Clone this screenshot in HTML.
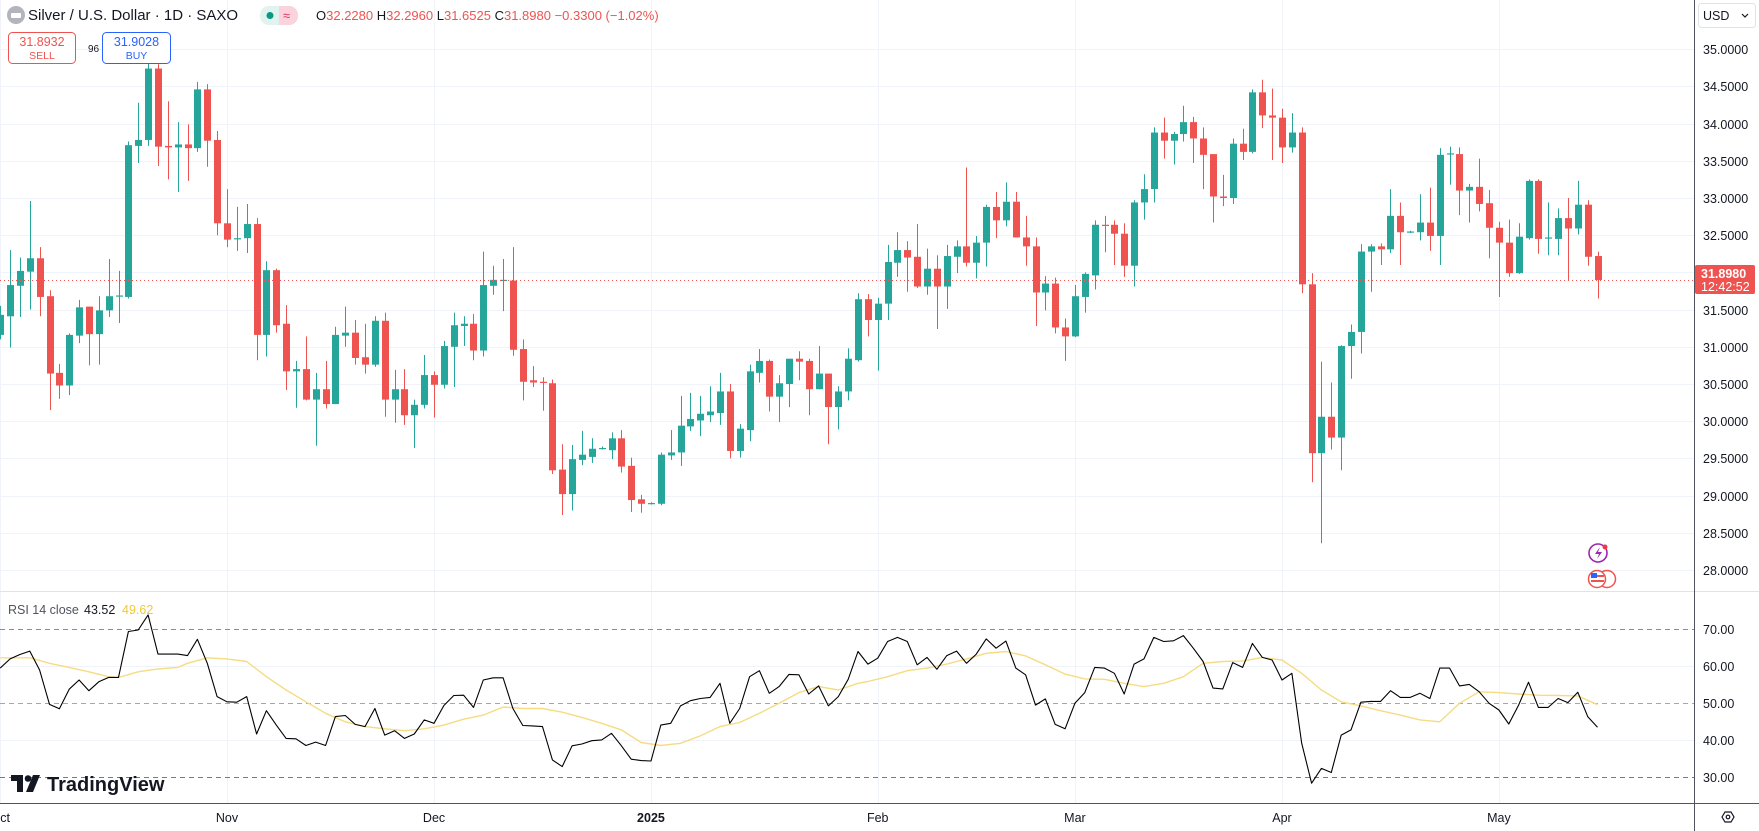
<!DOCTYPE html>
<html><head><meta charset="utf-8"><title>Silver / U.S. Dollar 1D</title>
<style>
html,body{margin:0;padding:0;background:#fff;}
body{width:1759px;height:831px;overflow:hidden;position:relative;font-family:"Liberation Sans",sans-serif;}
svg{position:absolute;left:0;top:0;}
.ax{font-size:12.5px;fill:#131722;}
</style></head>
<body>
<svg id="chart" width="1759" height="831" viewBox="0 0 1759 831" xmlns="http://www.w3.org/2000/svg">
  <g id="grid"></g>
  <g id="rsiBands"></g>
  <g id="candles"></g>
  <g id="rsiLines"></g>
  <line x1="0" y1="280.5" x2="1694" y2="280.5" stroke="#ef5350" stroke-width="1" stroke-dasharray="1 3"/>
  <!-- panes / axes -->
  <line x1="0" y1="591.5" x2="1759" y2="591.5" stroke="#e0e3eb" stroke-width="1"/>
  <line x1="1694.5" y1="0" x2="1694.5" y2="831" stroke="#50535e" stroke-width="1"/>
  <line x1="0" y1="803.5" x2="1759" y2="803.5" stroke="#50535e" stroke-width="1"/>
  <g id="axisLabels"></g>
  <!-- USD box -->
  <g>
    <rect x="1698.5" y="3.5" width="57" height="24" rx="3" fill="#fff" stroke="#e0e3eb"/>
    <text x="1703" y="20" font-size="12.5" fill="#131722">USD</text>
    <path d="M1742 14 l3 3 l3 -3" fill="none" stroke="#131722" stroke-width="1.2"/>
  </g>
  <!-- last price label -->
  <g>
    <text x="1703" y="276" class="ax" fill="#131722">32.0000</text>
    <rect x="1695" y="265" width="60" height="29" rx="2" fill="#ef5350"/>
    <text x="1701" y="278" font-size="12.5" fill="#fff" font-weight="bold">31.8980</text>
    <text x="1701" y="291" font-size="12.5" fill="#fff">12:42:52</text>
  </g>
  <!-- header -->
  <g>
    <circle cx="16" cy="15" r="9" fill="#b2b5be"/>
    <rect x="11" y="13" width="10" height="5" fill="#fff" rx="1"/>
    <text x="28" y="20" font-size="15" fill="#131722">Silver / U.S. Dollar · 1D · SAXO</text>
  </g>
  <g>
    <rect x="260" y="6" width="38" height="19" rx="9" fill="#e0f3ef"/>
    <path d="M279 6 h10 a9 9 0 0 1 9 9 v1 a9 9 0 0 1 -9 9 h-10z" fill="#fbd3dd"/>
    <circle cx="270" cy="15.5" r="3.5" fill="#089981"/>
    <text x="283" y="20" font-size="13" fill="#e0306b">≈</text>
  </g>
  <text x="316" y="20" font-size="13" fill="#ef5350"><tspan fill="#131722">O</tspan>32.2280 <tspan fill="#131722">H</tspan>32.2960 <tspan fill="#131722">L</tspan>31.6525 <tspan fill="#131722">C</tspan>31.8980 −0.3300 (−1.02%)</text>
  <g>
    <rect x="8.5" y="32.5" width="67" height="31" rx="4" fill="#fff" stroke="#ef5350"/>
    <text x="42" y="46" font-size="12.5" fill="#ef5350" text-anchor="middle">31.8932</text>
    <text x="42" y="59" font-size="10.5" fill="#ef5350" text-anchor="middle">SELL</text>
  </g>
  <text x="88" y="52" font-size="10" fill="#131722">96</text>
  <g>
    <rect x="102.5" y="32.5" width="68" height="31" rx="4" fill="#fff" stroke="#2962ff"/>
    <text x="136.5" y="46" font-size="12.5" fill="#2962ff" text-anchor="middle">31.9028</text>
    <text x="136.5" y="59" font-size="10.5" fill="#2962ff" text-anchor="middle">BUY</text>
  </g>
  <!-- RSI legend -->
  <text x="8" y="614" font-size="12.5" fill="#131722"><tspan fill="#50535e">RSI 14 close</tspan><tspan x="84" fill="#131722">43.52</tspan><tspan x="122" fill="#f0c93a">49.62</tspan></text>
  <!-- icons -->
  <g>
    <circle cx="1598" cy="553" r="9" fill="#fff" stroke="#9c27b0" stroke-width="1.6"/>
    <path d="M1600 547 l-5 7 h4 l-2 5 l5 -7 h-4z" fill="#9c27b0"/>
    <circle cx="1605" cy="547" r="2.5" fill="#f23645"/>
  </g>
  <g>
    <circle cx="1607" cy="579" r="8.5" fill="#fff" stroke="#ef5350" stroke-width="1.5"/>
    <circle cx="1597" cy="579" r="8.5" fill="#fff" stroke="#ef5350" stroke-width="1.5"/>
    <rect x="1591" y="575" width="13" height="2" fill="#ef5350"/>
    <rect x="1591" y="580" width="13" height="2" fill="#ef5350"/>
    <rect x="1591" y="573" width="6" height="5" fill="#2962ff"/>
  </g>
  <!-- logo -->
  <g>
    <path d="M11 775 h12 v17 h-6 v-11 h-6z" fill="#131722"/>
    <circle cx="28" cy="778.5" r="3.3" fill="#131722"/>
    <path d="M33 775 h7 l-7 17 h-7z" fill="#131722"/>
    <text x="47" y="791" font-size="20" font-weight="bold" fill="#131722">TradingView</text>
  </g>
  <g>
    <path d="M1722 817 l3 -5 h6 l3 5 l-3 5 h-6z" fill="none" stroke="#131722" stroke-width="1.2"/>
    <circle cx="1728" cy="817" r="1.8" fill="none" stroke="#131722" stroke-width="1.2"/>
  </g>
</svg>
<script>
// ---- data ----
const opens = [31.16,31.41,31.82,32.01,32.19,31.68,30.65,30.48,31.15,31.54,31.17,31.49,31.68,31.67,33.70,33.78,34.74,33.70,33.68,33.72,33.67,34.46,33.78,32.66,32.45,32.46,32.65,31.16,32.03,31.31,30.67,30.70,30.29,30.43,30.23,31.15,31.19,30.86,30.76,31.35,30.29,30.43,30.08,30.22,30.62,30.49,31.00,31.28,31.31,30.95,31.82,31.89,31.89,30.97,30.55,30.53,30.51,29.35,29.02,29.48,29.52,29.63,29.61,29.77,29.40,28.95,28.89,28.89,29.54,29.58,29.93,30.01,30.08,30.11,30.40,29.60,29.88,30.65,30.81,30.33,30.50,30.84,30.81,30.43,30.64,30.19,30.40,30.82,31.64,31.36,31.58,32.13,32.30,32.21,31.81,32.05,31.81,32.21,32.35,32.13,32.40,32.88,32.70,32.95,32.47,32.35,31.73,31.85,31.26,31.14,31.67,31.96,32.64,32.64,32.52,32.09,32.94,33.12,33.88,33.77,33.86,34.02,33.80,33.59,33.02,33.00,33.73,33.62,34.42,34.11,34.08,33.68,33.88,31.84,29.57,30.06,29.78,31.01,31.20,32.28,32.35,32.31,32.76,32.54,32.54,32.67,32.49,33.59,33.59,33.10,33.15,32.93,32.60,32.40,31.99,32.46,33.23,32.46,32.45,32.73,32.59,32.91,32.22];
const highs = [31.55,32.30,32.20,32.96,32.34,31.76,30.77,31.18,31.63,31.54,31.68,32.18,32.02,33.76,34.28,34.85,34.80,34.30,34.02,33.99,34.56,34.53,33.90,33.12,32.88,32.92,32.73,32.15,32.05,31.56,30.81,31.14,30.65,30.81,31.27,31.54,31.36,31.31,31.41,31.46,30.69,30.70,30.29,30.89,30.67,31.08,31.46,31.41,31.44,32.28,32.09,32.18,32.34,31.10,30.74,30.59,30.56,29.69,29.68,29.87,29.77,29.66,29.85,29.88,29.51,29.01,28.91,29.58,29.88,30.34,30.38,30.34,30.47,30.65,30.50,29.96,30.76,30.97,30.83,30.62,30.84,30.94,30.84,31.01,30.64,30.47,30.98,31.72,31.71,31.66,32.37,32.54,32.42,32.65,32.32,32.23,32.37,32.43,33.41,32.49,32.91,33.08,33.21,33.08,32.76,32.47,31.95,31.93,31.38,31.83,32.00,32.70,32.76,32.70,32.66,32.97,33.32,33.95,34.08,33.89,34.24,34.09,33.95,33.59,33.31,33.80,33.93,34.46,34.59,34.47,34.20,34.14,33.95,31.99,30.80,30.52,31.02,31.30,32.38,32.38,32.39,33.12,32.94,32.56,33.05,33.14,33.67,33.69,33.68,33.19,33.53,33.11,32.68,32.71,32.66,33.25,33.25,32.94,32.86,33.00,33.23,32.97,32.28];
const lows = [31.10,30.99,31.40,31.50,31.41,30.15,30.30,30.35,31.05,30.75,30.76,31.40,31.32,31.65,33.47,33.70,33.43,33.25,33.08,33.23,33.62,33.42,32.50,32.34,32.29,32.26,30.82,30.87,31.19,30.42,30.18,30.28,29.67,30.17,30.23,31.00,30.76,30.64,30.73,30.06,29.98,29.95,29.64,30.17,30.05,30.44,30.46,31.01,30.82,30.87,31.70,31.48,30.88,30.28,30.46,30.14,29.29,28.74,28.80,29.41,29.44,29.62,29.49,29.31,28.78,28.77,28.88,28.87,29.48,29.40,29.87,29.80,29.99,29.95,29.50,29.51,29.73,30.52,30.13,29.99,30.19,30.55,30.08,30.43,29.69,29.89,30.28,30.80,31.14,30.68,31.36,31.94,31.74,31.79,31.70,31.24,31.51,31.99,32.08,31.92,32.08,32.46,32.62,32.47,32.09,31.28,31.49,31.18,30.81,31.13,31.46,31.77,32.27,32.10,31.94,31.81,32.71,32.94,33.53,33.45,33.76,33.47,33.12,32.67,32.89,32.92,33.51,33.60,33.94,33.51,33.47,33.61,31.72,29.18,28.36,29.62,29.34,30.57,30.91,31.74,32.10,32.26,32.10,32.53,32.43,32.29,32.10,33.18,32.77,32.67,32.82,32.19,31.67,31.94,31.98,32.44,32.25,32.23,32.23,31.89,32.51,32.09,31.65];
const closes = [31.43,31.83,32.02,32.19,31.67,30.64,30.48,31.16,31.53,31.17,31.49,31.68,31.69,33.71,33.78,34.74,33.69,33.68,33.72,33.67,34.46,33.77,32.66,32.44,32.46,32.65,31.16,32.03,31.29,30.67,30.70,30.29,30.43,30.23,31.16,31.19,30.85,30.76,31.35,30.29,30.43,30.08,30.22,30.62,30.49,31.01,31.29,31.31,30.95,31.83,31.90,31.90,30.96,30.53,30.52,30.52,29.34,29.02,29.49,29.55,29.63,29.64,29.77,29.39,28.94,28.89,28.90,29.55,29.58,29.94,30.03,30.10,30.13,30.40,29.60,29.90,30.67,30.81,30.33,30.51,30.84,30.80,30.43,30.64,30.19,30.40,30.84,31.64,31.36,31.58,32.14,32.30,32.20,31.81,32.05,31.81,32.22,32.35,32.13,32.40,32.88,32.70,32.95,32.47,32.35,31.73,31.85,31.26,31.14,31.68,31.98,32.64,32.63,32.52,32.09,32.94,33.12,33.88,33.77,33.86,34.02,33.80,33.58,33.02,33.00,33.73,33.62,34.42,34.11,34.08,33.68,33.88,31.84,29.57,30.06,29.78,31.01,31.20,32.28,32.35,32.31,32.76,32.54,32.55,32.67,32.49,33.58,33.60,33.10,33.15,32.92,32.60,32.40,31.99,32.48,33.23,32.45,32.47,32.73,32.59,32.91,32.21,31.898];
const rsiValues = [59.5,62,63.2,64.1,59,49.7,48.5,53.8,56.3,53.4,55.8,57,57,69.4,69.8,73.9,63.3,63.3,63.3,62.9,67.3,60.8,51.8,50.4,50.3,51.8,41.7,48,44.1,40.5,40.4,38.6,39.5,38.6,46.4,46.7,44.3,43.7,48.6,41.4,42.6,40.5,41.7,45.5,44.6,49.4,52.1,52.2,48.9,56.3,56.9,56.9,48.6,44,43.9,43.7,34.7,32.9,38.5,39,39.9,40.1,41.9,38.5,34.9,34.5,34.4,44.1,44.6,49.3,50.7,51.3,51.6,55.4,44.6,48.6,57.2,58.8,52.7,54.5,57.8,57.7,52.5,54.7,49.3,51.8,56.5,64,60.6,62.2,66.7,67.8,66.7,60.4,62.4,59.2,62.9,64.1,60.8,63.3,67.4,64.9,66.8,59.5,57.7,49.5,51.2,44.3,43.1,50,52.9,59.7,59.5,58.1,52.5,60.6,62,67.8,66.7,66.9,68.3,64.9,61.3,54.1,53.9,61,59.7,66.2,62.4,61.7,56.3,58.1,39.2,28.4,32.4,31.3,41.4,42.8,50.3,50.5,50.5,53.4,51.6,51.6,52.7,51.3,59.5,59.5,54.7,55.1,53.1,50,48.2,44.4,49.5,55.7,48.9,48.9,51.3,50.2,53,46.4,43.52];
const maIndex = [0,3,5,7,9,11,12,14,16,18,19,21,23,25,27,29,31,33,35,37,39,41,43,45,47,49,51,53,55,57,59,61,63,65,67,69,71,73,75,77,79,81,83,85,87,88,90,92,94,96,98,100,102,104,106,108,110,112,114,116,118,120,122,124,126,128,130,132,134,136,138,140,142,144,146,148,150,152,154,156,158,160,162];
const maValues = [62.3,62.3,60.8,59.7,58.5,57.2,57,58.5,59.3,59.7,60.8,62.3,62,61.3,57.2,53.6,50.4,47.3,45,43.7,43.1,42.6,43.1,44.1,45.7,46.8,49,48.6,48.6,47.6,46.2,44.6,42.8,39.4,38.6,39.2,41.2,43.7,44.8,47.3,50,52.9,54.5,53.6,55.4,55.9,57.2,58.8,59.5,60.6,62,63.5,64,62.8,60.4,57.9,56.6,56.5,55.4,54.5,55.4,57.2,60.8,61.3,61.4,62.4,61.7,58.1,53.6,50.4,49.3,48,46.8,45.5,45,50,53.1,52.9,52.5,52.2,52.1,52,49.62];
const priceTicks = [35,34.5,34,33.5,33,32.5,32,31.5,31,30.5,30,29.5,29,28.5,28];
const rsiTicks = [70,60,50,40,30];
const monthLabels = ["Oct","Nov","Dec","2025","Feb","Mar","Apr","May"];
const monthIndex = [0,23,44,66,89,109,130,152];

// ---- scales ----
const xAt = i => 0.2 + i * 9.86;
const yPrice = p => 49.2 + (35 - p) * 74.4;
const yRsi = v => 703.3 - (v - 50) * 3.7;
const NS = "http://www.w3.org/2000/svg";
function mk(tag, attrs, parent){ const e=document.createElementNS(NS,tag); for(const k in attrs) e.setAttribute(k,attrs[k]); parent.appendChild(e); return e; }

const grid = document.getElementById('grid');
const axisLabels = document.getElementById('axisLabels');
priceTicks.forEach(p => {
  const y = Math.round(yPrice(p)) + 0.5;
  const l = mk('line',{x1:0,x2:1694,y1:y,y2:y,stroke:'#f0f3fa','stroke-width':1},grid);
  
  
  if (p === 32) return;
  const t = mk('text',{x:1703,y:y+4.5,class:'ax'},axisLabels);
  
  
  t.textContent = p.toFixed(4);
});
monthIndex.forEach((mi, k) => {
  const x = Math.round(xAt(mi)) + 0.5;
  const l = mk('line',{x1:x,x2:x,y1:0,y2:803,stroke:'#f0f3fa','stroke-width':1},grid);
  
  
  const t = mk('text',{x:xAt(mi),y:822,class:'ax','text-anchor':'middle'},axisLabels);
  
  
  if (monthLabels[k] === '2025') t.setAttribute('font-weight','bold');
  t.textContent = monthLabels[k];
});
const bands = document.getElementById('rsiBands');
rsiTicks.forEach(v => {
  const y = Math.round(yRsi(v)) + 0.5;
  let stroke = '#f0f3fa', dash = null;
  if (v === 70) { stroke = '#6b9e82'; dash = '5 4'; }
  if (v === 50) { stroke = '#a3a6af'; dash = '5 4'; }
  if (v === 30) { stroke = '#c25b5b'; dash = '5 4'; }
  const l = mk('line',{x1:0,x2:1694,y1:y,y2:y,stroke:stroke,'stroke-width':1},bands);
  if (dash) l.setAttribute('stroke-dasharray',dash);
  
  
  const t = mk('text',{x:1703,y:y+4.5,class:'ax'},axisLabels);
  
  
  t.textContent = v.toFixed(2);
});

// ---- candles ----
const cg = document.getElementById('candles');
for (let i = 0; i < closes.length; i++) {
  const up = closes[i] >= opens[i];
  const col = up ? '#26a69a' : '#ef5350';
  const x = Math.round(xAt(i));
  const g = mk('g',{},cg);
  
  
  mk('line',{x1:x+0.5,x2:x+0.5,y1:yPrice(highs[i]),y2:yPrice(lows[i]),stroke:col,'stroke-width':1},g);
  const yt = yPrice(Math.max(opens[i],closes[i]));
  const yb = yPrice(Math.min(opens[i],closes[i]));
  mk('rect',{x:x-3,y:yt,width:7,height:Math.max(1.2,yb-yt),fill:col},g);
}

// ---- RSI ----
const rg = document.getElementById('rsiLines');
const maPts = maIndex.map((mi,k) => xAt(mi).toFixed(1)+','+yRsi(maValues[k]).toFixed(1)).join(' ');
const ma = mk('polyline',{points:maPts,fill:'none',stroke:'#f5dc82','stroke-width':1.4,'stroke-linejoin':'round'},rg);


const rPts = rsiValues.map((v,i) => xAt(i).toFixed(1)+','+yRsi(v).toFixed(1)).join(' ');
const rl = mk('polyline',{points:rPts,fill:'none',stroke:'#000','stroke-width':1.1,'stroke-linejoin':'round'},rg);


</script>
</body></html>
